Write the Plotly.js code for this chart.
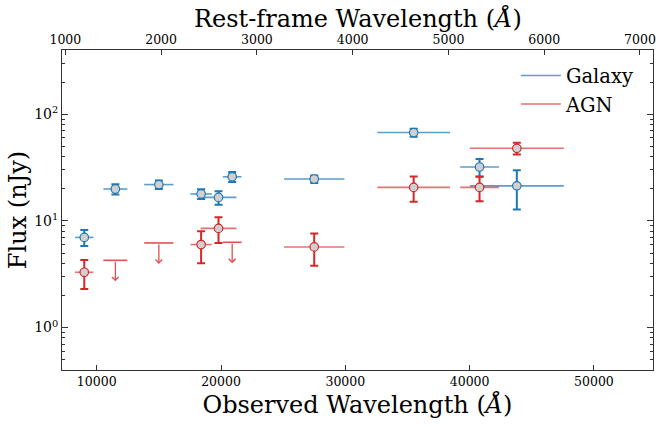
<!DOCTYPE html>
<html><head><meta charset="utf-8">
<script src="https://cdn.plot.ly/plotly-3.0.1.min.js"></script>
<style>body{margin:0;background:#fff}</style>
</head><body><div id="chart" style="width:664px;height:427px"></div>
<script>
// Galaxy photometry (observed wavelength in Å, flux in nJy)
const galWave = [9000, 11500, 15000, 18400, 19800, 20900, 27500, 35500, 40800, 43800];
const galWaveErr = [740, 965, 1180, 860, 1440, 750, 2430, 2925, 1560, 3780];
const galFlux = [7.0, 19.9, 21.9, 17.9, 16.6, 25.9, 24.7, 67.3, 32.0, 21.3];
const galFluxErr = [1.2, 2.2, 2.0, 1.9, 2.4, 2.8, 2.0, 5.7, 6.0, 8.5];

// AGN detections
const agnWave = [9000, 18400, 19800, 27500, 35500, 40800, 43800];
const agnWaveErr = [740, 860, 1440, 2430, 2925, 1560, 3780];
const agnFlux = [3.3, 6.0, 8.5, 5.7, 20.6, 20.6, 47.9];
const agnFluxErr = [1.0, 2.0, 2.3, 1.9, 5.5, 5.3, 6.0];

// AGN upper limits
const limWave = [11500, 15000, 20900];
const limWaveErr = [965, 1180, 750];
const limFlux = [4.27, 6.21, 6.3];

// tick labels
const yTickVals = [1, 10, 100];
const yTickText = ['10<sup>0</sup>', '10<sup>1</sup>', '10<sup>2</sup>'];
const xTickVals = [10000, 20000, 30000, 40000, 50000];
const x2TickVals = [1000, 2000, 3000, 4000, 5000, 6000, 7000];

const BLUE = '#1f77b4', BLUE_A = 'rgba(31,119,180,0.72)';
const RED = '#d62728', RED_A = 'rgba(214,39,40,0.65)';
const FONT = 'DejaVu Serif';
const arrowDex = 0.197;

const minorVals = [];
[0.1, 1, 10, 100].forEach(d => { for (let k = 2; k <= 9; k++) minorVals.push(k * d); });

function detTrace(x, xe, y, ye, col, colA) {
  return {
    x: x, y: y, type: 'scatter', mode: 'markers', showlegend: false, hoverinfo: 'skip',
    marker: {size: 8.5, color: '#d0d0d0', line: {color: col, width: 1.2}},
    error_x: {type: 'data', array: xe, visible: true, color: colA, thickness: 1.6, width: 0},
    error_y: {type: 'data', array: ye, visible: true, color: col, thickness: 2, width: 4}
  };
}

const traces = [
  detTrace(galWave, galWaveErr, galFlux, galFluxErr, BLUE, BLUE_A),
  detTrace(agnWave, agnWaveErr, agnFlux, agnFluxErr, RED, RED_A),
  {
    x: limWave, y: limFlux, type: 'scatter', mode: 'markers', showlegend: false, hoverinfo: 'skip',
    marker: {size: 1, color: 'rgba(0,0,0,0)'},
    error_x: {type: 'data', array: limWaveErr, visible: true, color: 'rgba(214,39,40,0.8)', thickness: 1.6, width: 0}
  },
  {x: [null], y: [null], xaxis: 'x2', type: 'scatter', mode: 'lines', name: 'Galaxy', hoverinfo: 'skip', line: {color: BLUE_A, width: 1.5}},
  {x: [null], y: [null], xaxis: 'x2', type: 'scatter', mode: 'lines', name: 'AGN', hoverinfo: 'skip', line: {color: RED_A, width: 1.5}}
];

const annotations = limWave.map((w, i) => ({
  x: w, y: Math.log10(limFlux[i]) - arrowDex, xref: 'x', yref: 'y',
  ax: 0, ay: -21, showarrow: true, arrowhead: 4, arrowwidth: 1.3, arrowsize: 1,
  arrowcolor: 'rgba(214,39,40,0.8)', text: '', standoff: 0
}));
annotations.push({
  text: 'Rest-frame Wavelength (<i>Å</i>)', xref: 'paper', yref: 'paper',
  x: 0.5, y: 1.097, xanchor: 'center', yanchor: 'middle', showarrow: false,
  font: {family: FONT, size: 24, color: '#000'}
});

const layout = {
  width: 664, height: 427,
  margin: {l: 62, r: 11, t: 50, b: 57},
  paper_bgcolor: '#fff', plot_bgcolor: '#fff',
  font: {family: FONT, color: '#000', size: 12.5},
  showlegend: true,
  legend: {x: 0.768, y: 0.98, xanchor: 'left', yanchor: 'top', bgcolor: 'rgba(0,0,0,0)',
           font: {family: FONT, size: 19.5}, tracegroupgap: 0, itemwidth: 40},
  xaxis: {
    range: [7208, 54755], tickmode: 'array', tickvals: xTickVals, tickformat: 'd',
    ticks: 'inside', ticklen: 5, tickcolor: '#333', showline: true, linecolor: '#333', linewidth: 1,
    mirror: false, showgrid: false, zeroline: false,
    tickfont: {family: FONT, size: 12.5},
    title: {text: 'Observed Wavelength (<i>Å</i>)', font: {family: FONT, size: 24}, standoff: 8}
  },
  xaxis2: {
    overlaying: 'x', side: 'top', anchor: 'y', range: [965, 7136],
    tickmode: 'array', tickvals: x2TickVals, tickformat: 'd',
    ticks: 'inside', ticklen: 5, tickcolor: '#333', showline: true, linecolor: '#333', linewidth: 1,
    showgrid: false, zeroline: false,
    tickfont: {family: FONT, size: 12.5}
  },
  yaxis: {
    type: 'log', range: [Math.log10(0.4), Math.log10(400)],
    tickmode: 'array', tickvals: yTickVals, ticktext: yTickText,
    ticks: 'inside', ticklen: 6, tickcolor: '#333', showline: true, linecolor: '#333', linewidth: 1,
    mirror: 'ticks', showgrid: false, zeroline: false,
    minor: {tickmode: 'array', tickvals: minorVals, ticks: 'inside', ticklen: 3, tickcolor: '#333', showgrid: false},
    tickfont: {family: FONT, size: 14},
    title: {text: 'Flux (nJy)', font: {family: FONT, size: 24}, standoff: 0}
  },
  annotations: annotations
};

Plotly.newPlot('chart', traces, layout, {staticPlot: true, displayModeBar: false});
</script>
</body></html>
